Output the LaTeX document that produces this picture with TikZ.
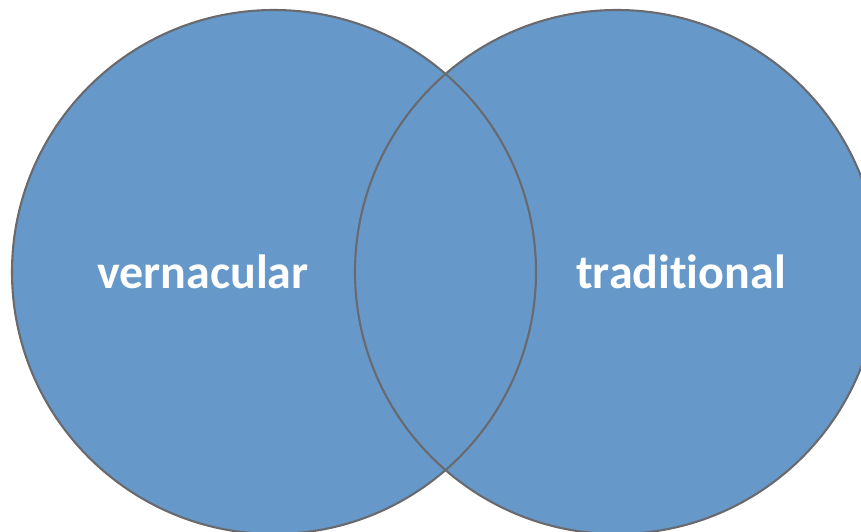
\documentclass[tikz,border=0pt]{standalone}
\usepackage{fontspec}
\setmainfont{Carlito}[Ligatures=NoCommon]
\definecolor{vennblue}{RGB}{102,153,202}
\definecolor{venngray}{RGB}{105,105,110}
\begin{document}
\begin{tikzpicture}[x=1pt,y=-1pt,
  venn/.style={fill=vennblue},
  vennline/.style={draw=venngray,line width=2.1pt},
  lbl/.style={text=white,font=\fontsize{48}{52}\selectfont\bfseries,inner sep=0pt}]
\useasboundingbox (0,0) rectangle (861,531);
\fill[venn] (274,272) circle (262);
\fill[venn] (617,272) circle (262);
\draw[vennline] (274,272) circle (262);
\draw[vennline] (617,272) circle (262);
\node[lbl] (v) at (203,272) {vernacular};
\node[lbl] (t) at (681,272) {traditional};
\end{tikzpicture}
\end{document}
